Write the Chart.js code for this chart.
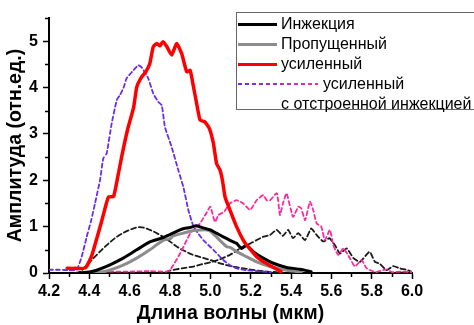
<!DOCTYPE html>
<html>
<head>
<meta charset="utf-8">
<script src="https://cdn.jsdelivr.net/npm/chart.js@4/dist/chart.umd.min.js"></script>
<style>
  html, body { margin:0; padding:0; background:#fff; overflow:hidden; }
  #wrap { position:relative; width:474px; height:325px; }
  #legend { position:absolute; left:236px; top:12px; width:250px; height:98px; border:1px solid #666; box-sizing:border-box;
            font-family:"Liberation Sans", Arial, sans-serif; font-size:16px; color:#000; }
  #legend .ln { position:absolute; left:1px; width:39px; height:3px; }
  #legend .tx { position:absolute; left:44px; line-height:18px; white-space:nowrap; }
</style>
</head>
<body>
<div id="wrap">
  <canvas id="c" width="474" height="325"></canvas>
  <div id="legend">
    <div class="ln" style="top:10px;background:#000"></div>
    <div class="tx" style="top:2px">Инжекция</div>
    <div class="ln" style="top:30px;background:#8c8c8c"></div>
    <div class="tx" style="top:22px">Пропущенный</div>
    <div class="ln" style="top:50px;background:#ff0000"></div>
    <div class="tx" style="top:42px">усиленный</div>
    <svg style="position:absolute;left:1px;top:69px" width="80" height="4">
      <defs><linearGradient id="g" gradientUnits="userSpaceOnUse" x1="0" y1="0" x2="80" y2="0"><stop offset="0" stop-color="#6a2cf0"/><stop offset="1" stop-color="#ff2a9a"/></linearGradient></defs>
      <line x1="0" y1="2" x2="80" y2="2" stroke="url(#g)" stroke-width="2" stroke-dasharray="4 3"/>
    </svg>
    <div class="tx" style="top:62px;left:86px">усиленный</div>
    <div class="tx" style="top:82px">с отстроенной инжекцией</div>
  </div>
</div>
<script>
// ---- data ----
const injX  = [4.35,4.40,4.436,4.50,4.568,4.635,4.70,4.75,4.80,4.85,4.87,4.90,4.93,4.96,5.00,5.03,5.064,5.10,5.13,5.155,5.18,5.213,5.262,5.312,5.378,5.444,5.50];
const injY  = [0.00,0.02,0.06,0.17,0.32,0.50,0.67,0.74,0.83,0.93,0.96,0.98,1.02,0.98,0.93,0.86,0.78,0.70,0.64,0.53,0.60,0.46,0.32,0.21,0.12,0.08,0.03];

const passX = [4.42,4.46,4.50,4.568,4.635,4.70,4.767,4.80,4.816,4.866,4.90,4.932,4.98,5.00,5.03,5.08,5.10,5.13,5.18,5.23,5.296,5.378,5.45];
const passY = [0.00,0.02,0.06,0.17,0.32,0.50,0.71,0.74,0.80,0.86,0.90,0.92,0.93,0.90,0.78,0.57,0.55,0.46,0.35,0.24,0.14,0.06,0.02];

const ampX  = [4.29,4.33,4.38,4.41,4.43,4.46,4.48,4.495,4.52,4.54,4.56,4.59,4.62,4.635,4.655,4.68,4.70,4.717,4.735,4.75,4.765,4.785,4.808,4.833,4.858,4.883,4.90,4.915,4.932,4.949,4.973,4.995,5.015,5.031,5.048,5.06,5.073,5.097,5.13,5.163,5.19,5.23,5.26,5.30,5.35];
const ampY  = [0.10,0.10,0.11,0.35,0.64,1.10,1.43,1.64,1.65,2.05,2.50,3.10,3.58,4.01,4.20,4.34,4.52,4.88,4.95,4.90,4.99,4.88,4.70,4.95,4.73,4.34,4.37,4.05,3.66,3.30,3.26,3.12,2.80,2.36,2.22,2.00,1.64,1.36,1.00,0.71,0.55,0.35,0.25,0.15,0.03];

const detVX = [4.20,4.25,4.30,4.337,4.362,4.387,4.41,4.428,4.453,4.469,4.486,4.511,4.536,4.552,4.57,4.585,4.618,4.643,4.66,4.692,4.717,4.742,4.759,4.775,4.808,4.841,4.866,4.891,4.915,4.94,4.965,5.015,5.064,5.10,5.131,5.18,5.23,5.30];
const detVY = [0.07,0.07,0.06,0.07,0.35,0.78,1.15,1.50,2.00,2.47,2.58,3.23,3.73,3.84,4.00,4.20,4.37,4.48,4.43,4.20,3.87,3.69,3.62,3.15,2.72,2.22,1.86,1.36,1.02,0.85,0.71,0.50,0.28,0.16,0.10,0.06,0.04,0.02];

const detPX = [4.50,4.60,4.70,4.78,4.80,4.85,4.90,4.949,4.98,5.00,5.023,5.04,5.056,5.07,5.097,5.13,5.163,5.197,5.23,5.262,5.28,5.296,5.33,5.345,5.36,5.378,5.41,5.436,5.45,5.47,5.494,5.51,5.527,5.55,5.568,5.593,5.61,5.634,5.66,5.692,5.717,5.75,5.775,5.82,5.874,5.90,5.95,6.00];
const detPY = [0.03,0.03,0.04,0.03,0.06,0.42,0.85,1.07,1.29,1.43,1.10,1.25,1.29,1.33,1.50,1.57,1.50,1.36,1.57,1.68,1.57,1.57,1.72,1.25,1.50,1.72,1.21,1.43,1.40,1.14,1.54,1.36,1.07,1.00,0.71,0.93,0.60,0.39,0.53,0.32,0.14,0.28,0.10,0.02,0.08,0.02,0.03,0.02];

const injAX = [4.33,4.354,4.403,4.469,4.536,4.60,4.65,4.70,4.75,4.80,4.833,4.875,4.915,4.96,5.00,5.04,5.08,5.12,5.163,5.22,5.28,5.33];
const injAY = [0.00,0.03,0.24,0.53,0.78,0.93,0.99,0.93,0.82,0.68,0.57,0.47,0.39,0.33,0.28,0.22,0.17,0.13,0.10,0.06,0.03,0.02];

const injBX = [4.78,4.80,4.86,4.915,4.96,5.00,5.05,5.097,5.13,5.163,5.20,5.23,5.26,5.296,5.329,5.36,5.386,5.41,5.436,5.47,5.50,5.527,5.56,5.59,5.618,5.643,5.676,5.71,5.742,5.79,5.816,5.84,5.874,5.907,5.94,5.98,6.00];
const injBY = [0.02,0.05,0.10,0.14,0.19,0.23,0.30,0.39,0.48,0.57,0.64,0.71,0.78,0.82,0.93,0.80,0.93,0.75,0.86,0.71,0.96,0.82,0.68,0.75,0.60,0.42,0.53,0.32,0.24,0.46,0.24,0.20,0.06,0.15,0.10,0.06,0.02];

const xTicks = [4.2,4.4,4.6,4.8,5.0,5.2,5.4,5.6,5.8,6.0];
const yTicks = [0,1,2,3,4,5];

const pts = (xs, ys) => xs.map((x,i) => ({x, y: ys[i]}));

// small outward minor ticks between the labelled ones
const minorTicks = {
  id: 'minorTicks',
  afterDraw(chart) {
    const {ctx, scales:{x, y}} = chart;
    ctx.save();
    ctx.strokeStyle = '#000'; ctx.lineWidth = 1.5;
    for (let i = 0; i < xTicks.length - 1; i++) {
      const px = Math.round(x.getPixelForValue((xTicks[i] + xTicks[i+1]) / 2)) + 0.5;
      ctx.beginPath(); ctx.moveTo(px, y.bottom); ctx.lineTo(px, y.bottom + 4); ctx.stroke();
    }
    for (let i = 0; i < yTicks.length; i++) {
      const py = Math.round(y.getPixelForValue(yTicks[i] + 0.5)) + 0.5;
      ctx.beginPath(); ctx.moveTo(x.left, py); ctx.lineTo(x.left - 4, py); ctx.stroke();
    }
    ctx.restore();
  }
};

const font = 'Arial, "Liberation Sans", sans-serif';

new Chart(document.getElementById('c'), {
  type: 'line',
  data: {
    datasets: [
      { label:'injA', data:pts(injAX, injAY), borderColor:'#1a1a1a', borderWidth:1.8, borderDash:[5,3], cubicInterpolationMode:'monotone', order:7 },
      { label:'injB', data:pts(injBX, injBY), borderColor:'#1a1a1a', borderWidth:1.8, borderDash:[5,3], order:6 },
      { label:'detP', data:pts(detPX, detPY), borderColor:'#ff2a9a', borderWidth:1.8, borderDash:[4,3], order:5 },
      { label:'detV', data:pts(detVX, detVY), borderColor:'#6a2cf0', borderWidth:1.8, borderDash:[4,3], order:4 },
      { label:'Пропущенный', data:pts(passX, passY), borderColor:'#8c8c8c', borderWidth:3, order:3 },
      { label:'Инжекция', data:pts(injX, injY), borderColor:'#000', borderWidth:3, order:2 },
      { label:'усиленный', data:pts(ampX, ampY), borderColor:'#ff0000', borderWidth:3.5, order:1 }
    ]
  },
  options: {
    responsive: false,
    animation: false,
    layout: { padding: { top:18, right:62, left:0, bottom:0 } },
    elements: { point: { radius:0 }, line: { tension:0.15, borderJoinStyle:'round', borderCapStyle:'round' } },
    plugins: { legend: { display:false }, tooltip: { enabled:false } },
    scales: {
      x: {
        type:'linear', min:4.2, max:6.0,
        afterFit: s => { s.height = 52; },
        border: { display:true, color:'#000', width:2 },
        grid: { drawOnChartArea:false, drawTicks:true, tickLength:6, tickColor:'#000', tickWidth:1.5 },
        ticks: { stepSize:0.2, includeBounds:false, color:'#000', padding:3, font:{ family:font, size:16, weight:'bold' },
                 callback: v => v.toFixed(1) },
        title: { display:true, text:'Длина волны (мкм)', color:'#000', font:{ family:font, size:19.5, weight:'bold' }, padding:{ top:0, bottom:0 } }
      },
      y: {
        type:'linear', min:0, max:5.5,
        afterFit: s => { s.width = 49; },
        border: { display:true, color:'#000', width:2 },
        grid: { drawOnChartArea:false, drawTicks:true, tickLength:6, tickColor:'#000', tickWidth:1.5 },
        ticks: { stepSize:1, includeBounds:false, color:'#000', padding:5, font:{ family:font, size:16, weight:'bold' } },
        title: { display:true, text:'Амплитуда (отн.ед.)', color:'#000', font:{ family:font, size:19.5, weight:'bold' }, padding:{ top:4 } }
      }
    }
  },
  plugins: [minorTicks]
});
</script>
</body>
</html>
